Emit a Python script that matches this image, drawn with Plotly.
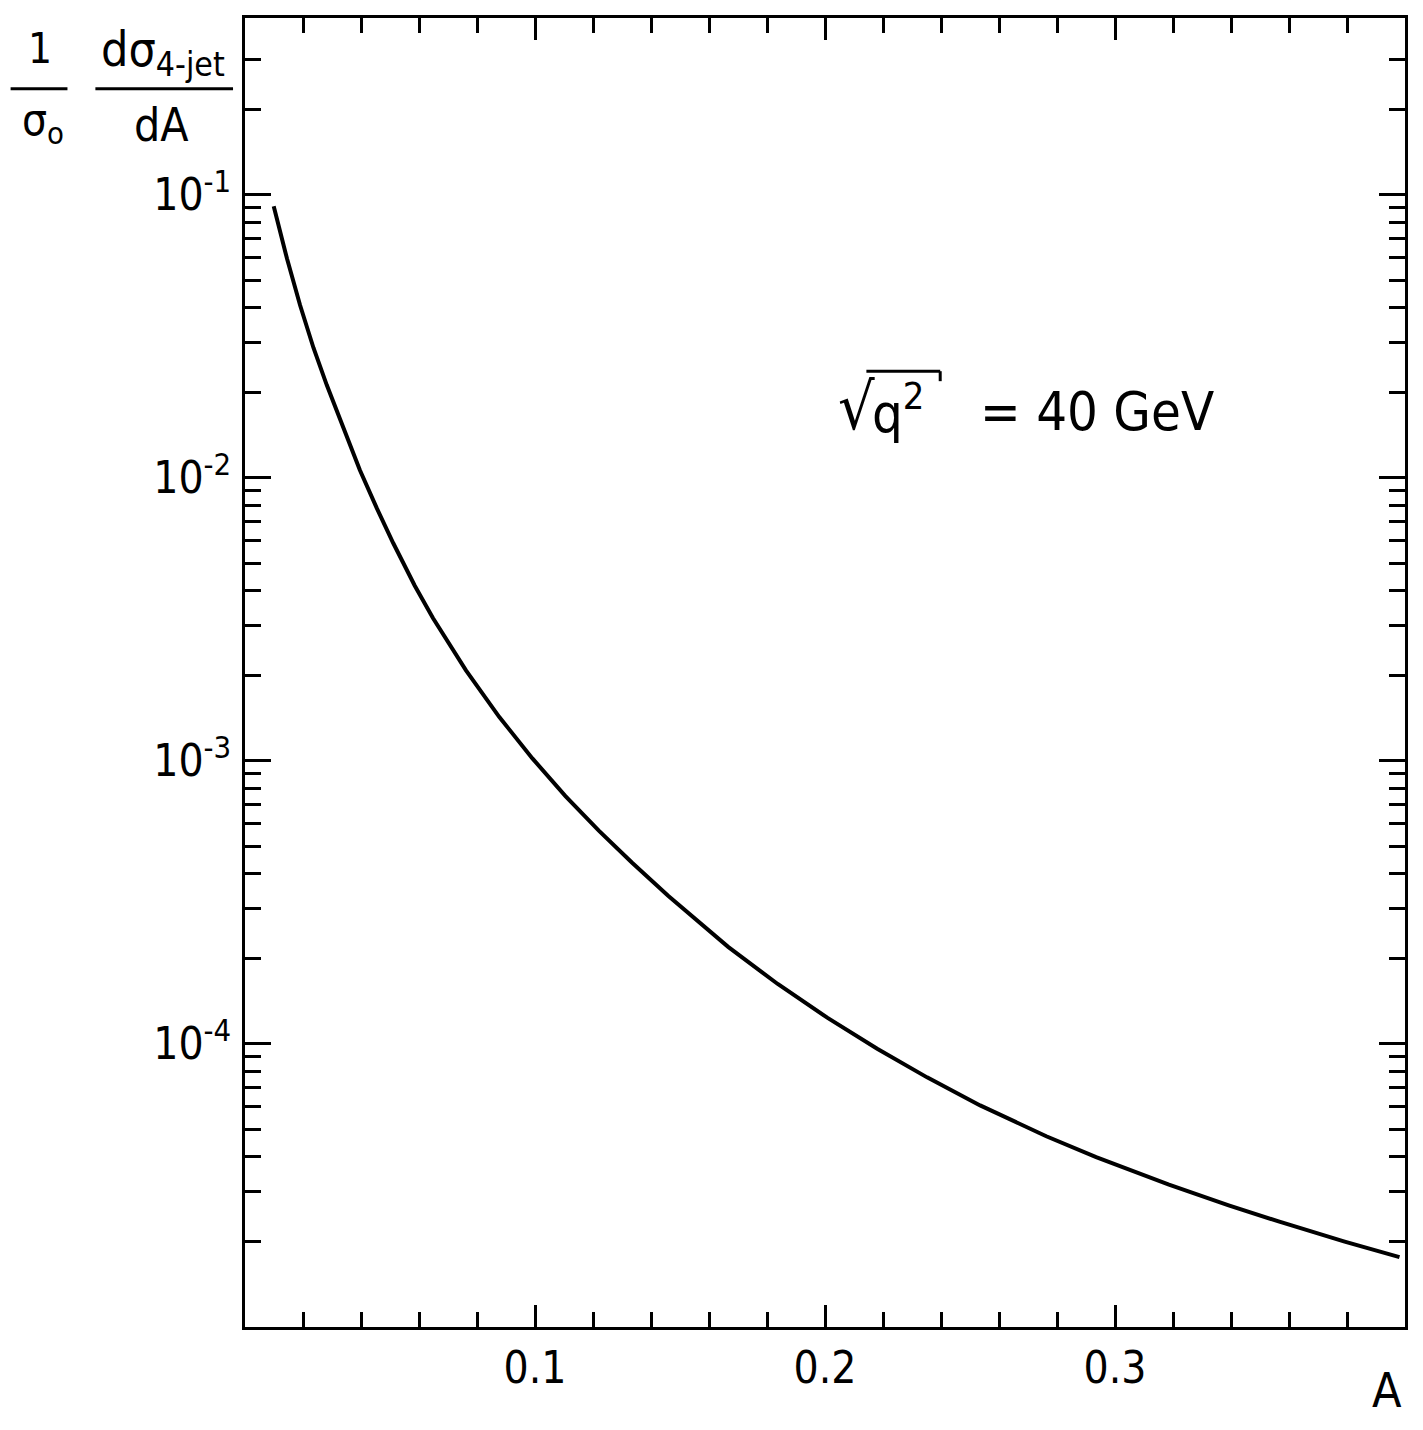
import plotly.graph_objects as go

# ---- data ----
A_vals = [0.0099, 0.0145, 0.0190, 0.0236, 0.0282, 0.0339, 0.0396, 0.0454, 0.0511, 0.0585,
          0.0648, 0.0762, 0.0877, 0.0991, 0.1105, 0.1220, 0.1334, 0.1460, 0.1666, 0.1837,
          0.2009, 0.2180, 0.2352, 0.2535, 0.2763, 0.2935, 0.3186, 0.3392, 0.3564, 0.3792,
          0.3981]
dsig_vals = [0.09120, 0.05943, 0.04074, 0.02884, 0.02128, 0.01493, 0.01067, 0.007834, 0.005888, 0.004169,
             0.003199, 0.002089, 0.001429, 0.001021, 0.0007516, 0.0005675, 0.0004375, 0.0003334, 0.0002203, 0.0001629,
             0.0001236, 9.616e-5, 7.621e-5, 6.067e-5, 4.721e-5, 3.981e-5, 3.184e-5, 2.692e-5, 2.360e-5, 2.004e-5,
             1.766e-5]

x_major = [0.1, 0.2, 0.3]
x_major_text = ["0.1", "0.2", "0.3"]
x_minor = [0.02, 0.04, 0.06, 0.08, 0.12, 0.14, 0.16, 0.18, 0.22, 0.24, 0.26, 0.28,
           0.32, 0.34, 0.36, 0.38]
y_major = [1e-4, 1e-3, 1e-2, 1e-1]
y_major_text = ["10<sup>-4</sup>", "10<sup>-3</sup>", "10<sup>-2</sup>", "10<sup>-1</sup>"]
y_minor = [k * 10.0 ** d for d in (-5, -4, -3, -2) for k in range(2, 10)] + [0.2, 0.3]

FONT = "Liberation Sans Narrow, DejaVu Sans Condensed, DejaVu Sans, sans-serif"

OFF = 8  # page body margin
W, H = 1423 - 2 * OFF, 1430 - 2 * OFF
# plot-area edges in reference pixels
X0, X1, Y0, Y1 = 245, 1408, 15, 1327
L, R, T, B = X0 - OFF, W - (X1 - OFF), Y0 - OFF, H - (Y1 - OFF)
PW, PH = W - L - R, H - T - B


def px(xr):
    return (xr - X0) / PW


def py(yr):
    return 1 - (yr - Y0) / PH


fig = go.Figure()
fig.add_trace(go.Scatter(x=A_vals, y=dsig_vals, mode="lines",
                         line=dict(color="black", width=4, shape="linear"),
                         showlegend=False, hoverinfo="skip"))

fig.update_layout(
    width=W, height=H,
    margin=dict(l=L, r=R, t=T, b=B),
    paper_bgcolor="white", plot_bgcolor="white",
    font=dict(family=FONT, color="black"),
    xaxis=dict(range=[0, 0.4], showgrid=False, zeroline=False,
               showline=True, linecolor="black", linewidth=3, mirror="ticks",
               ticks="inside", ticklen=22, tickwidth=2.5, tickcolor="black",
               tickvals=x_major, ticktext=x_major_text,
               tickfont=dict(size=44, family=FONT), ticklabelstandoff=0,
               minor=dict(tickvals=x_minor, ticks="inside", ticklen=15, tickwidth=2.5,
                          tickcolor="black", showgrid=False)),
    yaxis=dict(type="log", range=[-5.0, -0.375], showgrid=False, zeroline=False,
               showline=True, linecolor="black", linewidth=3, mirror="ticks",
               ticks="inside", ticklen=26, tickwidth=2.5, tickcolor="black",
               tickvals=y_major, ticktext=y_major_text,
               tickfont=dict(size=44, family=FONT), ticklabelstandoff=2,
               minor=dict(tickvals=y_minor, ticks="inside", ticklen=16, tickwidth=2.5,
                          tickcolor="black", showgrid=False)),
)

ann = []


def add_text(text, xr, yr, size, xanchor="center", yanchor="middle"):
    ann.append(dict(text=text, x=px(xr), y=py(yr), xref="paper", yref="paper",
                    showarrow=False, xanchor=xanchor, yanchor=yanchor,
                    font=dict(size=size, family=FONT, color="black")))


# y-axis title as fractions
add_text("1", 39, 46, 42)
add_text("σ<sub>o</sub>", 42, 120, 44)
add_text("dσ<sub>4-jet</sub>", 163, 50, 48)
add_text("dA", 161, 122, 46)
# x-axis title
add_text("A", 1390, 1390, 48)
# annotation
add_text("√", 858, 405, 64)
add_text("q<sup>2</sup>", 872, 407, 54, xanchor="left")
add_text("= 40 GeV", 980, 409, 54, xanchor="left")

fig.update_layout(annotations=ann)

shapes = [
    dict(type="line", xref="paper", yref="paper", x0=px(10), x1=px(67), y0=py(86), y1=py(86),
         line=dict(color="black", width=3)),
    dict(type="line", xref="paper", yref="paper", x0=px(95), x1=px(233), y0=py(86), y1=py(86),
         line=dict(color="black", width=3)),
    dict(type="line", xref="paper", yref="paper", x0=px(868), x1=px(942), y0=py(369), y1=py(369),
         line=dict(color="black", width=3)),
    dict(type="line", xref="paper", yref="paper", x0=px(942), x1=px(942), y0=py(369), y1=py(379),
         line=dict(color="black", width=3)),
]
fig.update_layout(shapes=shapes)

fig.write_html("out.html")
